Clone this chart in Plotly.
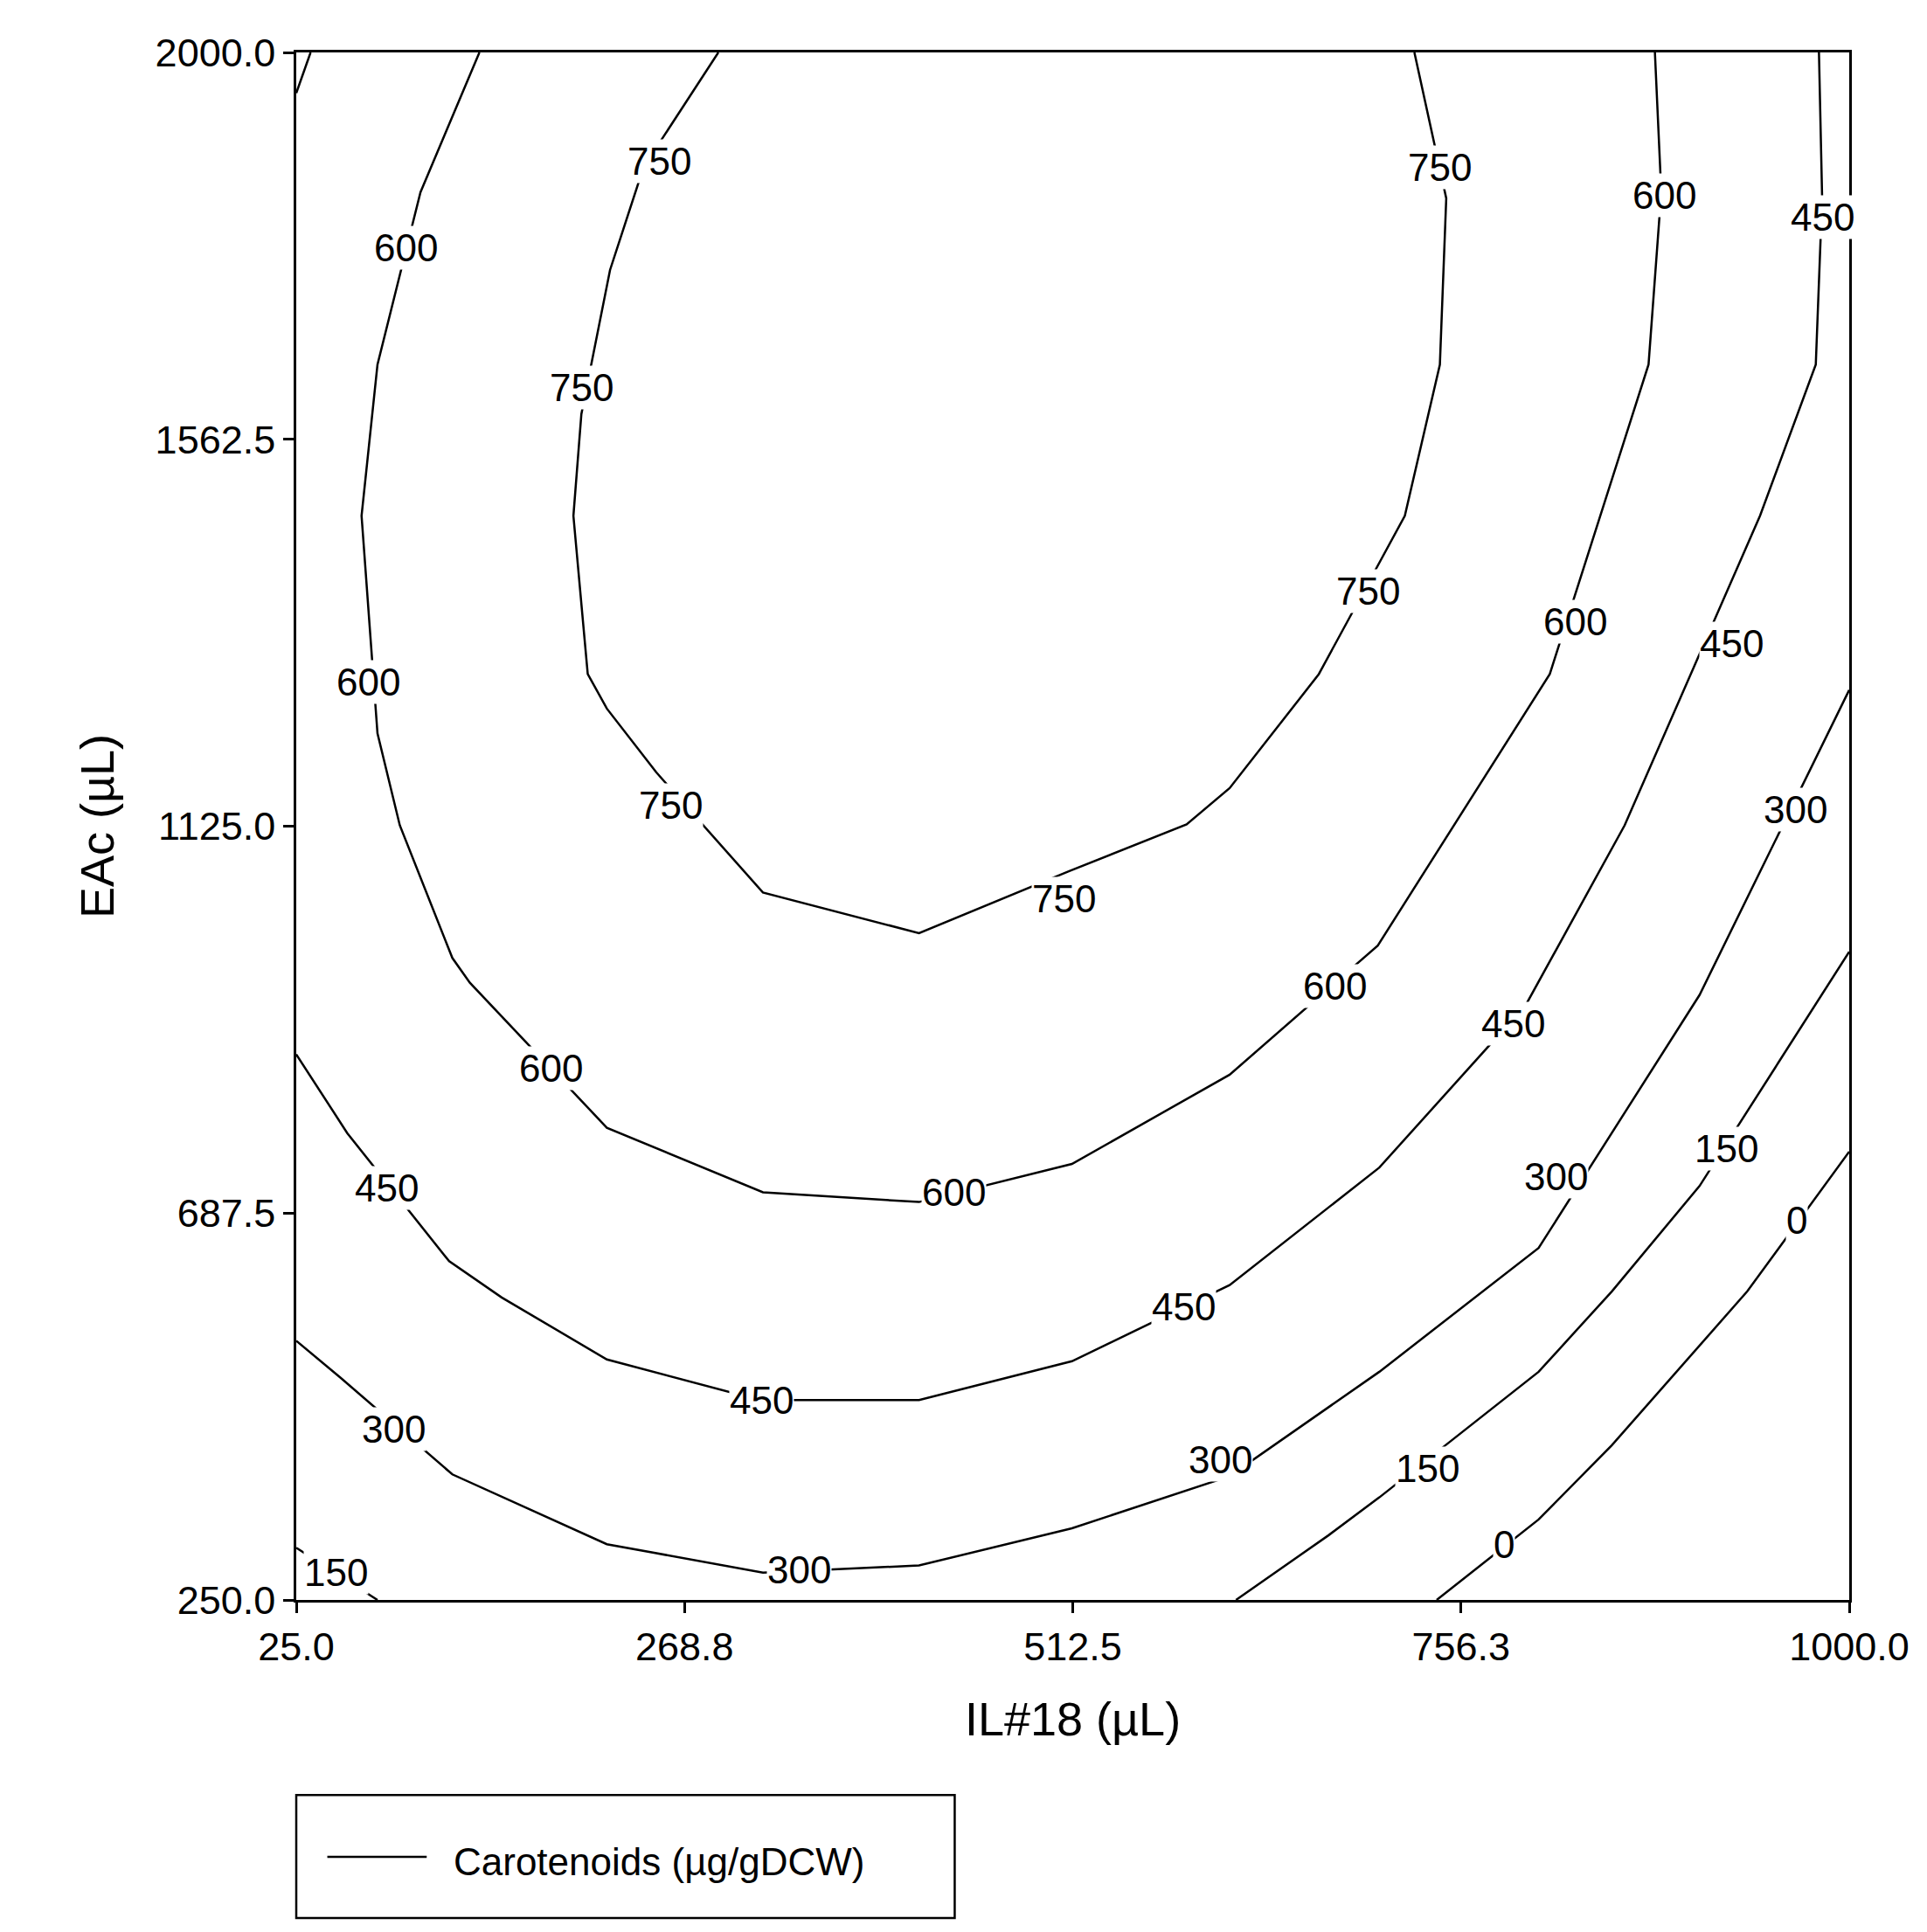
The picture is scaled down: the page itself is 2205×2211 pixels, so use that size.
import plotly.graph_objects as go

# contour lines (IL#18 µL, EAc µL)
c750_x = [290, 243, 222, 204, 199, 208, 220, 251, 318, 416, 510, 584, 611, 667, 721, 743, 747, 727]
c750_y = [2000, 1870, 1754, 1591, 1476, 1297, 1258, 1186, 1050, 1004, 1074, 1127, 1168, 1297, 1476, 1647, 1835, 2000]
c750b_x = [25, 34]
c750b_y = [1954, 2000]
c600_x = [140, 103, 76, 66, 76, 90, 123, 134, 220, 318, 416, 512, 611, 704, 812, 874, 882, 878]
c600_y = [2000, 1842, 1647, 1476, 1230, 1126, 976, 948, 784, 711, 700, 743, 844, 990, 1297, 1647, 1842, 2000]
c450_x = [25, 57, 121, 154, 220, 316, 416, 512, 611, 705, 797, 859, 944, 979, 983, 981]
c450_y = [867, 778, 633, 592, 522, 476, 476, 520, 606, 739, 923, 1126, 1476, 1647, 1835, 2000]
c300_x = [25, 53, 123, 220, 318, 416, 512, 611, 705, 805, 906, 1000]
c300_y = [543, 501, 392, 313, 281, 289, 331, 390, 508, 648, 934, 1279]
c150a_x = [25, 76]
c150a_y = [309, 250]
c150_x = [615, 673, 705, 805, 851, 906, 1000]
c150_y = [250, 323, 366, 508, 599, 718, 983]
c0_x = [741, 805, 851, 936, 1000]
c0_y = [250, 341, 425, 599, 757]

lines = [(c750_x, c750_y), (c750b_x, c750b_y), (c600_x, c600_y), (c450_x, c450_y),
         (c300_x, c300_y), (c150a_x, c150a_y), (c150_x, c150_y), (c0_x, c0_y)]

label_text = ["750", "750", "750", "750", "750", "750",
              "600", "600", "600", "600", "600", "600", "600",
              "450", "450", "450", "450", "450", "450",
              "300", "300", "300", "300", "300",
              "150", "150", "150", "0", "0"]
label_x = [253, 204, 260, 507, 743, 698,
           94, 70, 185, 438, 677, 828, 884,
           82, 317, 582, 789, 926, 983,
           86, 341, 605, 816, 966,
           50, 735, 923, 783, 967]
label_y = [1877, 1621, 1149, 1043, 1870, 1391,
           1779, 1288, 851, 711, 944, 1356, 1838,
           716, 476, 582, 902, 1332, 1814,
           443, 284, 409, 729, 1144,
           281, 399, 760, 313, 679]

x_ticks = [25, 268.75, 512.5, 756.25, 1000]
x_tick_text = ["25.0", "268.8", "512.5", "756.3", "1000.0"]
y_ticks = [250, 687.5, 1125, 1562.5, 2000]
y_tick_text = ["250.0", "687.5", "1125.0", "1562.5", "2000.0"]

fnt = "Liberation Sans, Arial, sans-serif"
fig = go.Figure()
for lx, ly in lines:
    fig.add_trace(go.Scatter(x=lx, y=ly, mode="lines", line=dict(color="black", width=2.5),
                             showlegend=False, hoverinfo="skip"))

for t, x, y in zip(label_text, label_x, label_y):
    fig.add_annotation(x=x, y=y, text=t, showarrow=False, bgcolor="white",
                       font=dict(size=44, color="black", family=fnt), borderpad=0)

# legend box
fig.add_shape(type="rect", xref="paper", yref="paper", x0=0, x1=0.424, y0=-0.2055, y1=-0.126,
              line=dict(color="black", width=2.5))
fig.add_shape(type="line", xref="paper", yref="paper", x0=0.02, x1=0.084, y0=-0.166, y1=-0.166,
              line=dict(color="black", width=2.5))
fig.add_annotation(xref="paper", yref="paper", x=0.1, y=-0.169, xanchor="left", yanchor="middle",
                   showarrow=False, text="Carotenoids (µg/gDCW)",
                   font=dict(size=44, color="black", family=fnt))

axis_common = dict(showline=True, linecolor="black", linewidth=2.5, mirror=True, showgrid=False,
                   zeroline=False, ticks="outside", ticklen=12, tickwidth=2.5, tickcolor="black",
                   tickfont=dict(size=45, color="black", family=fnt))
fig.update_xaxes(range=[25, 1000], tickvals=x_ticks, ticktext=x_tick_text,
                 title=dict(text="IL#18 (µL)", font=dict(size=54, family=fnt, color="black"), standoff=40),
                 **axis_common)
fig.update_yaxes(range=[250, 2000], tickvals=y_ticks, ticktext=y_tick_text,
                 title=dict(text="EAc (µL)", font=dict(size=54, family=fnt, color="black"), standoff=30),
                 **axis_common)
fig.update_layout(width=2205, height=2211, plot_bgcolor="white", paper_bgcolor="white",
                  margin=dict(l=331, r=97, t=52, b=388))
fig.write_html("out.html")
